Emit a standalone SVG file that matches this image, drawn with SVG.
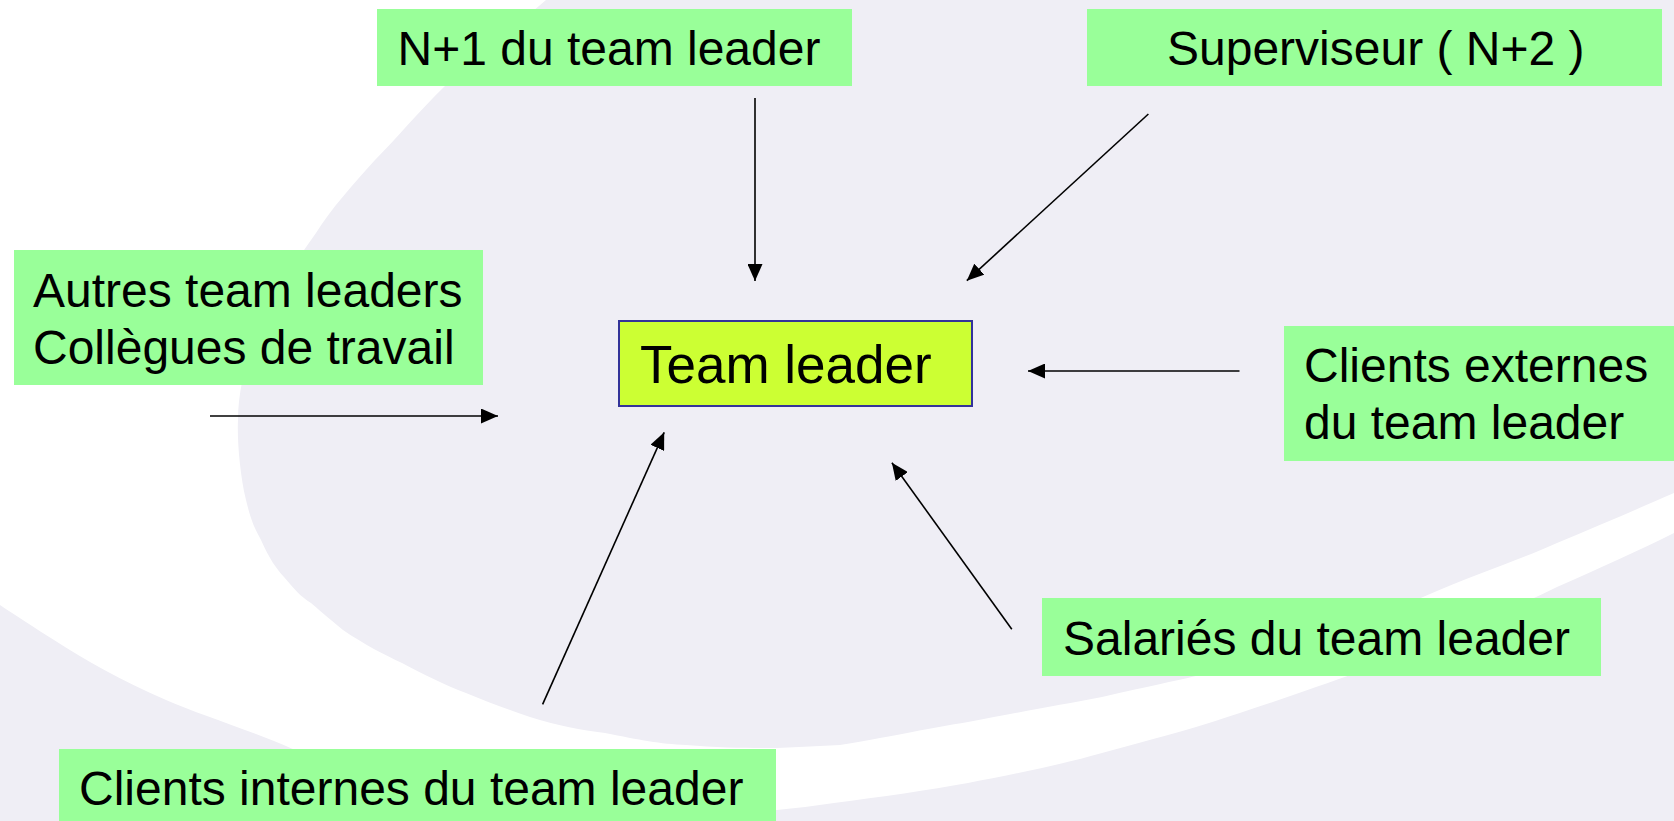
<svg xmlns="http://www.w3.org/2000/svg" width="1674" height="821" viewBox="0 0 1674 821">
<style>
.node{fill:#99FF99;}
.lbl{font-family:"Liberation Sans",Arial,sans-serif;font-size:48px;fill:#000;}
.conn line{stroke:#000;stroke-width:1.6;marker-end:url(#ah);}
</style>
<defs>
<marker id="ah" markerUnits="userSpaceOnUse" markerWidth="17" markerHeight="15" refX="17" refY="7.5" orient="auto">
<path d="M0,0 L17,7.5 L0,15 z" fill="#000"/>
</marker>
</defs>
<g id="background">
<rect x="0" y="0" width="1674" height="821" fill="#EFEEF5"/>
<path fill="#FFFFFF" d="M0,0 L546,0 C500,40 470,60 445,86 C420,110 395,140 375,160 C355,182 330,210 316,233 C300,255 270,300 257,333 C244,365 238,395 238,420 C237,440 240,475 246,500 C252,525 256,530 261,540 C270,560 276,568 284,577 C295,590 300,596 311,603 C325,615 333,622 343,630 C365,645 385,655 402,663 C425,675 445,685 466,693 C490,703 510,710 530,717 C560,726 580,730 605,733 C640,740 660,744 686,745 C720,748 750,748 777,748 C800,747 820,746 840,745 C900,735 930,728 968,722 C1020,712 1060,705 1102,697 C1150,686 1180,680 1209,673 C1250,662 1290,650 1316,640 C1360,622 1395,610 1423,597 C1480,572 1520,560 1557,543 C1600,525 1640,508 1674,493 L1674,533 C1640,550 1600,568 1557,587 C1510,610 1460,630 1423,647 C1380,665 1345,677 1316,687 C1280,700 1240,713 1209,723 C1170,735 1130,745 1102,753 C1060,765 1010,775 968,783 C930,790 880,797 834,803 C815,806 795,808 777,810 L600,821 L420,800 C380,780 330,765 295,750 C250,730 200,715 166,700 C120,680 85,660 54,640 C35,628 15,615 0,605 Z"/>
</g>
<g id="n1">
<rect class="node" x="377" y="9" width="475" height="77"/>
<text class="lbl" x="397.5" y="65">N+1 du team leader</text>
</g>
<g id="superviseur">
<rect class="node" x="1087" y="9" width="575" height="77"/>
<text class="lbl" x="1167" y="65">Superviseur ( N+2 )</text>
</g>
<g id="autres">
<rect class="node" x="14" y="250" width="469" height="135"/>
<text class="lbl" x="33" y="306.7">Autres team leaders</text>
<text class="lbl" x="33" y="364">Collègues de travail</text>
</g>
<g id="teamleader">
<rect x="619" y="321" width="353" height="85" fill="#CCFF33" stroke="#333399" stroke-width="2"/>
<text class="lbl" x="640" y="383" style="font-size:53px">Team leader</text>
</g>
<g id="externes">
<rect class="node" x="1284" y="326" width="390" height="135"/>
<text class="lbl" x="1304" y="381.7">Clients externes</text>
<text class="lbl" x="1304" y="439.3">du team leader</text>
</g>
<g id="salaries">
<rect class="node" x="1042" y="598" width="559" height="78"/>
<text class="lbl" x="1063" y="655">Salariés du team leader</text>
</g>
<g id="internes">
<rect class="node" x="59" y="749" width="717" height="72"/>
<text class="lbl" x="79" y="805">Clients internes du team leader</text>
</g>
<g id="connectors" class="conn">
<line x1="755" y1="98" x2="755" y2="281"/>
<line x1="1148.4" y1="114" x2="966.8" y2="280.7"/>
<line x1="210" y1="416" x2="498" y2="416"/>
<line x1="1239.5" y1="371" x2="1028" y2="371"/>
<line x1="542.6" y1="704.3" x2="664.2" y2="432.3"/>
<line x1="1011.8" y1="629.3" x2="891.9" y2="462.7"/>
</g>
</svg>
